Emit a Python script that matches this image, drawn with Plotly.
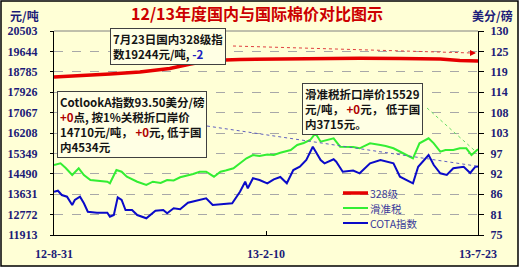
import pandas as pd
import plotly.graph_objects as go

START = "2012-08-31"

# days since 2012-08-31 and values
red_days = [0, 20, 43, 66, 89, 105, 120, 143, 174, 205, 235, 266, 297, 312, 326]
red_vals = [18566, 18608, 18692, 18777, 18924, 19113, 19261, 19303, 19324, 19353, 19353, 19345, 19324, 19261, 19244]

green_days = [0, 5, 9, 14, 19, 23, 28, 34, 41, 43, 48, 52, 56, 64, 71, 76, 82, 87, 92, 97, 102, 107, 112, 117,
              123, 128, 132, 138, 143, 148, 153, 158, 164, 169, 174, 178, 182, 187, 192, 197, 201, 205, 210, 215,
              220, 225, 230, 235, 243, 251, 255, 261, 266, 271, 276, 281, 288, 292, 297, 301, 307, 312, 317, 321, 326]
green_vals = [14861, 14932, 14734, 14439, 14722, 14439, 14229, 14208, 14157, 14090, 14650, 14578, 14368, 14157,
              14018, 14157, 14103, 14229, 14208, 14343, 14397, 14482, 14578, 14578, 14368, 14578, 14629, 14722,
              14932, 15143, 15282, 15239, 15303, 15282, 15378, 15429, 15492, 15703, 15787, 15913, 16195, 15842,
              15913, 15985, 15631, 15631, 15618, 15564, 15774, 15703, 15661, 15564, 15408, 15282, 15143, 15774,
              15985, 15774, 15421, 15492, 15492, 15564, 15564, 15282, 15529]

blue_days = [0, 3, 6, 10, 14, 16, 20, 23, 26, 33, 41, 43, 46, 49, 52, 55, 60, 64, 71, 78, 84, 87, 92, 97, 103,
             110, 117, 122, 130, 137, 143, 147, 149, 153, 158, 164, 169, 174, 179, 184, 189, 194, 199, 205, 208,
             215, 217, 222, 230, 235, 243, 251, 261, 266, 276, 280, 288, 292, 297, 302, 307, 315, 320, 324, 326]
blue_vals = [86.67, 86.94, 85.78, 85.33, 83.09, 84.44, 85.33, 83.55, 81.28, 81.01, 81.01, 79.93, 80.39, 85.16,
             84.44, 81.74, 81.74, 80.39, 79.50, 81.55, 81.74, 80.85, 82.20, 81.93, 83.71, 84.25, 84.89, 83.09,
             83.36, 83.55, 86.67, 89.37, 87.59, 90.29, 89.83, 88.94, 90.02, 90.64, 88.94, 92.52, 93.41, 95.22,
             98.81, 95.22, 94.33, 95.41, 94.76, 92.07, 92.39, 91.63, 94.33, 95.22, 94.33, 90.72, 88.94, 93.41,
             96.57, 93.87, 91.63, 91.18, 92.98, 93.41, 91.72, 93.41, 93.50]

series_names = ["328级", "滑准税", "COTA指数"]
series_colors = ["#e60000", "#33ee33", "#0a0ac8"]

left_ticks = [11913, 12772, 13631, 14490, 15349, 16208, 17067, 17926, 18785, 19644, 20503]
right_tickvals = [75, 80.5, 86, 91.5, 97, 102.5, 108, 113.5, 119, 124.5, 130]
right_ticktext = ["75", "81", "86", "92", "97", "103", "108", "114", "119", "125", "130"]
x_tickvals = ["2012-08-31", "2013-02-10", "2013-07-23"]
x_ticktext = ["12-8-31", "13-2-10", "13-7-23"]

title_text = "12/13年度国内与国际棉价对比图示"
note_red = "7月23日国内328级指<br>数19244元/吨, <span style='color:#2020c0'>-2</span>"
note_cot = ("CotlookA指数93.50美分/磅<br><span style='color:#b00000'>+0</span>点, 按1%关税折口岸价<br>"
            "14710元/吨， <span style='color:#b00000'>+0</span>元, 低于国<br>内4534元")
note_hz = "滑准税折口岸价15529<br>元/吨， <span style='color:#b00000'>+0</span>元， 低于国<br>内3715元。"


def to_dates(days):
    return pd.Timestamp(START) + pd.to_timedelta(days, unit="D")


BG = "#FFFFD6"
NAVY = "#1c1c78"
W, H = 521, 269
L, R, T, B = 54, 478, 31, 235


def px(x):
    return (x - L) / (R - L)


def py(y):
    return (B - y) / (B - T)


fig = go.Figure()
fig.add_trace(go.Scatter(x=to_dates(red_days), y=red_vals, name=series_names[0], mode="lines",
                         line=dict(color=series_colors[0], width=3.5)))
fig.add_trace(go.Scatter(x=to_dates(green_days), y=green_vals, name=series_names[1], mode="lines",
                         line=dict(color=series_colors[1], width=2)))
fig.add_trace(go.Scatter(x=to_dates(blue_days), y=blue_vals, name=series_names[2], mode="lines",
                         line=dict(color=series_colors[2], width=2), yaxis="y2"))

tick_font = dict(family="Liberation Serif", size=12, color=NAVY, weight="bold")

fig.update_layout(
    width=W, height=H,
    margin=dict(l=L, r=W - R, t=T, b=H - B, autoexpand=False),
    paper_bgcolor="white",
    plot_bgcolor=BG,
    showlegend=False,
    xaxis=dict(type="date", range=[x_tickvals[0], x_tickvals[-1]], tickvals=x_tickvals, ticktext=x_ticktext,
               showgrid=False, showline=True, linecolor="black", linewidth=1, ticks="inside", ticklen=4,
               tickcolor="black", tickfont=tick_font, ticklabelstandoff=8, zeroline=False, automargin=False),
    yaxis=dict(range=[left_ticks[0], left_ticks[-1]], tickvals=left_ticks, ticktext=[str(v) for v in left_ticks],
               showgrid=True, gridcolor="#a8a8a8", griddash="dash", gridwidth=1, showline=True,
               linecolor="black", ticks="outside", ticklen=3, tickcolor="black", tickfont=tick_font,
               ticklabelstandoff=10, zeroline=False, automargin=False),
    yaxis2=dict(range=[right_tickvals[0], right_tickvals[-1]], tickvals=right_tickvals, ticktext=right_ticktext,
                overlaying="y", side="right", showgrid=False, showline=True, linecolor="black",
                ticks="outside", ticklen=5, tickcolor="black", tickfont=tick_font, ticklabelstandoff=4,
                zeroline=False, automargin=False),
    title=dict(text=title_text, x=257 / W, xref="container", y=1 - 14 / H, yref="container",
               xanchor="center", yanchor="middle", automargin=False,
               font=dict(family="Noto Sans CJK SC", size=16, color="#cc0000", weight="bold")),
)

shapes = [
    dict(type="rect", xref="paper", yref="paper", x0=px(1), x1=px(518), y0=py(266), y1=py(1),
         line=dict(color="black", width=1.5), fillcolor=BG, layer="below"),
    dict(type="line", xref="paper", yref="paper", x0=0, x1=1, y0=1, y1=1,
         line=dict(color="#808080", width=1)),
    dict(type="line", xref="paper", yref="paper", x0=px(233), y0=py(46), x1=px(472), y1=py(53),
         line=dict(color="#e04040", width=1, dash="dot")),
    dict(type="line", xref="paper", yref="paper", x0=px(207), y0=py(126), x1=px(476), y1=py(166),
         line=dict(color="#6060c0", width=1, dash="dot")),
    dict(type="line", xref="paper", yref="paper", x0=px(427), y0=py(108), x1=px(474), y1=py(150),
         line=dict(color="#66dd66", width=1, dash="dot")),
]

# manual legend (compact spacing like the reference)
legend_y = [193, 208, 223]
legend_w = [3.5, 2, 2]
annotations = []
for name, color, yy, lw in zip(series_names, series_colors, legend_y, legend_w):
    shapes.append(dict(type="line", xref="paper", yref="paper", x0=px(343), x1=px(368), y0=py(yy), y1=py(yy),
                       line=dict(color=color, width=lw)))
    annotations.append(dict(text=name, xref="paper", yref="paper", x=px(369), y=py(yy), xanchor="left",
                            yanchor="middle", showarrow=False, borderpad=0,
                            font=dict(family="Noto Sans CJK SC", size=10.5, color="#3a3a9a")))
fig.update_layout(shapes=shapes)

box_font = dict(family="Noto Sans CJK SC", size=11.5, color="#141414", weight="bold")
annotations += [
    dict(text="元/吨", xref="paper", yref="paper", x=px(8), y=py(15), xanchor="left", yanchor="middle",
         showarrow=False, font=dict(family="Noto Sans CJK SC", size=12, color=NAVY, weight="bold")),
    dict(text="美分/磅", xref="paper", yref="paper", x=px(470), y=py(15), xanchor="left", yanchor="middle",
         showarrow=False, font=dict(family="Noto Sans CJK SC", size=12, color=NAVY, weight="bold")),
    dict(text=note_red, xref="paper", yref="paper", x=px(110), y=py(28), xanchor="left", yanchor="top",
         align="left", showarrow=False, font=box_font, bgcolor="#FFFFE4", bordercolor="#404040",
         borderwidth=1, borderpad=2),
    dict(text=note_cot, xref="paper", yref="paper", x=px(57), y=py(91), xanchor="left", yanchor="top",
         align="left", showarrow=False, font=box_font, bgcolor="#FFFFE4", bordercolor="#404040",
         borderwidth=1, borderpad=2),
    dict(text=note_hz, xref="paper", yref="paper", x=px(302), y=py(83), xanchor="left", yanchor="top",
         align="left", showarrow=False, font=box_font, bgcolor="#FFFFE4", bordercolor="#404040",
         borderwidth=1, borderpad=2),
    dict(text="", xref="paper", yref="paper", x=px(476), y=py(53), ax=-7, ay=0, showarrow=True,
         arrowhead=2, arrowsize=1.2, arrowwidth=1, arrowcolor="#e00000"),
]
fig.update_layout(annotations=annotations)

fig.write_html("out.html")
